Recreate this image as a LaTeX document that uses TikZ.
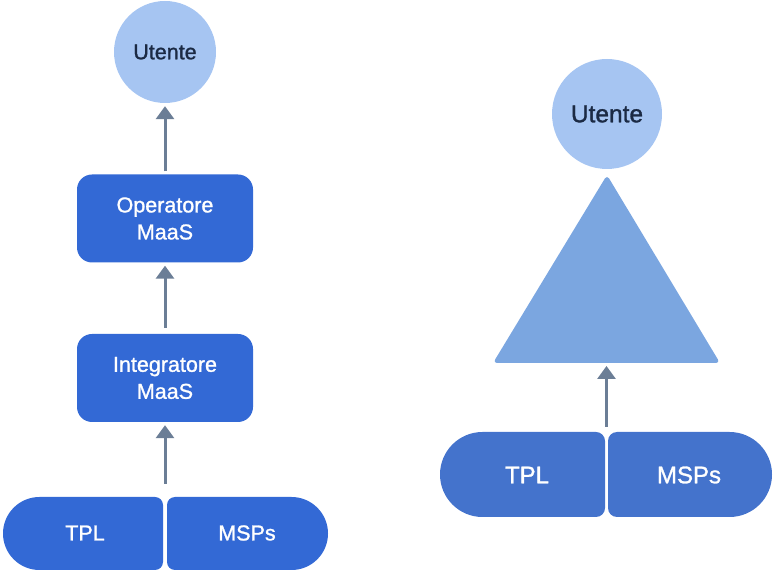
\documentclass[tikz,border=0pt]{standalone}
\usepackage{fontspec}
\setmainfont{Liberation Sans}[RawFeature={embolden=1.2}]
\usetikzlibrary{arrows.meta}
\usetikzlibrary{shapes.geometric}

\definecolor{boxblue}{HTML}{3369D5}
\definecolor{baseblue}{HTML}{4473CC}
\definecolor{userblue}{HTML}{A6C5F2}
\definecolor{triblue}{HTML}{7BA6E0}
\definecolor{usertext}{HTML}{1B2A44}
\definecolor{arrowgray}{HTML}{6B7E96}

\begin{document}
\begin{tikzpicture}[x=1pt,y=1pt,
  user/.style={circle,fill=userblue,text=usertext,inner sep=0},
  role/.style={rectangle,rounded corners=15pt,fill=boxblue,text=white,minimum width=176pt,minimum height=88pt,align=center,font=\fontsize{21.5}{27}\selectfont},
  basetext/.style={text=white,inner sep=0},
  flow/.style={draw=arrowgray,line width=3pt,-{Triangle[width=18pt,length=13pt]},shorten >=3pt,shorten <=3pt}]

  \useasboundingbox (0,0) rectangle (773,572);

  % left chain
  \node[user,minimum size=102pt,font=\fontsize{21.5}{24}\selectfont] (userL) at (165,520) {Utente};
  \node[role] (oper) at (165,353.5) {Operatore\\MaaS};
  \node[role] (integ) at (165,194) {Integratore\\MaaS};

  \fill[boxblue] (39.5,75) -- (155,75) arc[start angle=90,end angle=0,radius=8] -- (163,10)
    arc[start angle=0,end angle=-90,radius=8] -- (39.5,2) arc[start angle=270,end angle=90,radius=36.5] -- cycle;
  \fill[boxblue] (175,75) -- (291.5,75) arc[start angle=90,end angle=-90,radius=36.5] -- (175,2)
    arc[start angle=270,end angle=180,radius=8] -- (167,67) arc[start angle=180,end angle=90,radius=8] -- cycle;
  \node[basetext,font=\fontsize{21.5}{24}\selectfont] (tplL) at (85,39) {TPL};
  \node[basetext,font=\fontsize{21.5}{24}\selectfont] (mspL) at (247,39) {MSPs};
  \coordinate (gapL) at (165,85);

  \draw[flow] (oper.north) -- (userL.south);
  \draw[flow,shorten <=6pt] (integ.north) -- (oper.south);
  \draw[flow] (gapL) -- (integ.south);

  % right pyramid
  \node[user,minimum size=110pt,font=\fontsize{24.5}{27}\selectfont] (userR) at (607,458) {Utente};
  \fill[triblue,rounded corners=4pt] (493,209) -- (607,397) -- (720,209) -- cycle;
  \coordinate (triB) at (606.5,209);

  \fill[baseblue] (482.5,140) -- (596,140) arc[start angle=90,end angle=0,radius=9] -- (605,64)
    arc[start angle=0,end angle=-90,radius=9] -- (482.5,55) arc[start angle=270,end angle=90,radius=42.5] -- cycle;
  \fill[baseblue] (617,140) -- (729.5,140) arc[start angle=90,end angle=-90,radius=42.5] -- (617,55)
    arc[start angle=270,end angle=180,radius=9] -- (608,131) arc[start angle=180,end angle=90,radius=9] -- cycle;
  \node[basetext,font=\fontsize{24}{27}\selectfont] (tplR) at (527,97) {TPL};
  \node[basetext,font=\fontsize{24}{27}\selectfont] (mspR) at (689,97) {MSPs};
  \coordinate (gapR) at (606.5,145);

  \draw[flow,shorten <=0pt] (gapR) -- (triB);
\end{tikzpicture}
\end{document}
